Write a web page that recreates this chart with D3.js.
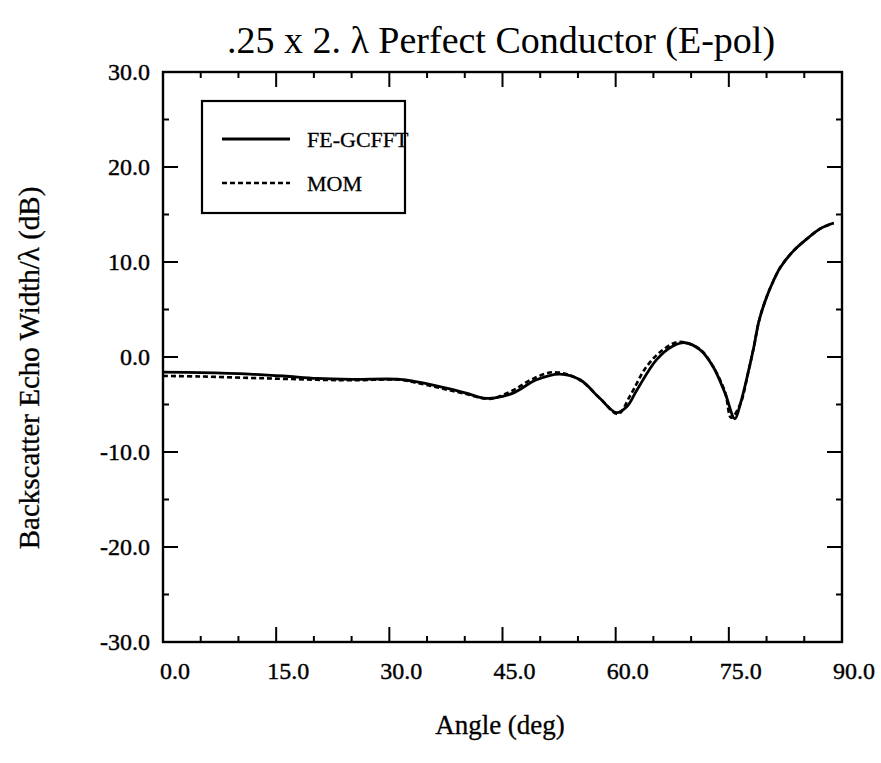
<!DOCTYPE html>
<html><head><meta charset="utf-8">
<script src="https://cdn.jsdelivr.net/npm/d3@7"></script>
<style>body{margin:0;background:#fff}svg{display:block}text{font-family:"Liberation Serif","Times New Roman",serif;fill:#000}</style>
</head><body><svg id="c" width="881" height="763"></svg>
<script>
const feAngle = [0, 5, 11.5, 16, 20.4, 25, 31.4, 33.5, 35.8, 38, 40.2, 42.0, 42.9, 44, 46.4, 49.5, 52.6, 55.3, 57.9, 60.1, 61.5, 62.8, 65.4, 67.6, 69.2, 71.2, 72.9, 74.5, 75.8, 76.5, 77.6, 78.3, 79.0, 80.0, 80.9, 81.8, 83.6, 85.3, 87.1, 88.9];
const feDb    = [-1.6, -1.65, -1.8, -2.0, -2.25, -2.35, -2.35, -2.6, -2.95, -3.35, -3.8, -4.25, -4.35, -4.3, -3.8, -2.4, -1.8, -2.4, -4.35, -5.85, -5.2, -3.5, -0.3, 1.15, 1.5, 0.75, -1.0, -3.8, -6.5, -5.0, -1.5, 1.0, 3.8, 6.3, 8.0, 9.4, 11.2, 12.4, 13.5, 14.1];
const momAngle = [0, 5, 11.5, 16, 20.4, 25, 31.4, 33.5, 35.8, 38, 40.2, 42.9, 44, 46.4, 49.0, 51.8, 55.0, 58.0, 60.3, 61.9, 64.1, 66.5, 68.5, 71.2, 72.9, 74.5, 75.3, 76.5, 77.6, 78.3, 79.0, 80.0, 80.9, 81.8, 83.6, 85.3, 87.1, 88.9];
const momDb    = [-2.0, -2.05, -2.2, -2.3, -2.4, -2.45, -2.4, -2.7, -3.1, -3.5, -3.9, -4.4, -4.3, -3.5, -2.3, -1.6, -2.3, -4.4, -6.0, -4.1, -1.0, 0.9, 1.6, 0.8, -1.0, -3.7, -6.4, -5.0, -1.5, 1.0, 3.8, 6.3, 8.0, 9.4, 11.2, 12.4, 13.5, 14.1];
const xTicks = [0, 15, 30, 45, 60, 75, 90];
const yTicks = [30, 20, 10, 0, -10, -20, -30];
const seriesNames = ["FE-GCFFT", "MOM"];
const titleText = ".25 x 2. \u03bb Perfect Conductor (E-pol)";
const xTitle = "Angle (deg)";
const yTitle = "Backscatter Echo Width/\u03bb (dB)";

const svg = d3.select("#c");
const L = 163, R = 842, T = 72, B = 642;
const x = d3.scaleLinear().domain([0, 90]).range([L, R]);
const y = d3.scaleLinear().domain([-30, 30]).range([B, T]);

svg.append("rect").attr("x", L).attr("y", T).attr("width", R - L).attr("height", B - T)
  .attr("fill", "none").attr("stroke", "#000").attr("stroke-width", 2.4);

const xMinor = d3.range(0, 91, 5);
const yMinor = d3.range(-30, 31, 5);
const g = svg.append("g").attr("stroke", "#000").attr("stroke-width", 2);
xMinor.forEach(v => {
  const len = v % 15 === 0 ? 15 : 6;
  g.append("line").attr("x1", x(v)).attr("x2", x(v)).attr("y1", B).attr("y2", B - len);
  g.append("line").attr("x1", x(v)).attr("x2", x(v)).attr("y1", T).attr("y2", T + len);
});
yMinor.forEach(v => {
  const len = v % 10 === 0 ? 15 : 6;
  g.append("line").attr("y1", y(v)).attr("y2", y(v)).attr("x1", L).attr("x2", L + len);
  g.append("line").attr("y1", y(v)).attr("y2", y(v)).attr("x1", R).attr("x2", R - len);
});

const tl = {stroke: "#000", sw: 0.4};
svg.append("g").selectAll("text").data(xTicks).join("text")
  .attr("x", d => x(d) + 12).attr("y", 679).attr("text-anchor", "middle")
  .attr("font-size", 24).attr("stroke", tl.stroke).attr("stroke-width", tl.sw).text(d => d.toFixed(1));
svg.append("g").selectAll("text").data(yTicks).join("text")
  .attr("x", 150).attr("y", d => y(d) + 8).attr("text-anchor", "end")
  .attr("font-size", 24).attr("stroke", tl.stroke).attr("stroke-width", tl.sw).text(d => d.toFixed(1));

svg.append("text").attr("x", 501).attr("y", 53).attr("text-anchor", "middle").attr("font-size", 38).text(titleText);
svg.append("text").attr("x", 500).attr("y", 734).attr("text-anchor", "middle").attr("font-size", 27)
  .attr("stroke", "#000").attr("stroke-width", 0.3).text(xTitle);
svg.append("text").attr("transform", "translate(39,368) rotate(-90)").attr("text-anchor", "middle").attr("font-size", 29)
  .attr("stroke", "#000").attr("stroke-width", 0.3).text(yTitle);

const line = d3.line().x(d => x(d[0])).y(d => y(d[1])).curve(d3.curveCatmullRom.alpha(0.5));
svg.append("path").datum(momAngle.map((a, i) => [a, momDb[i]]))
  .attr("d", line).attr("fill", "none").attr("stroke", "#000").attr("stroke-width", 2.6).attr("stroke-dasharray", "5,3");
svg.append("path").datum(feAngle.map((a, i) => [a, feDb[i]]))
  .attr("d", line).attr("fill", "none").attr("stroke", "#000").attr("stroke-width", 2.8);

svg.append("rect").attr("x", 202).attr("y", 101).attr("width", 203).attr("height", 112)
  .attr("fill", "#fff").attr("stroke", "#000").attr("stroke-width", 2.2);
svg.append("line").attr("x1", 222).attr("x2", 290).attr("y1", 139).attr("y2", 139).attr("stroke", "#000").attr("stroke-width", 2.8);
svg.append("line").attr("x1", 222).attr("x2", 290).attr("y1", 183).attr("y2", 183).attr("stroke", "#000").attr("stroke-width", 2.4).attr("stroke-dasharray", "5,3");
svg.append("text").attr("x", 307).attr("y", 147).attr("font-size", 22).attr("stroke", "#000").attr("stroke-width", 0.3).text(seriesNames[0]);
svg.append("text").attr("x", 307).attr("y", 191).attr("font-size", 22).attr("stroke", "#000").attr("stroke-width", 0.3).text(seriesNames[1]);
</script></body></html>
